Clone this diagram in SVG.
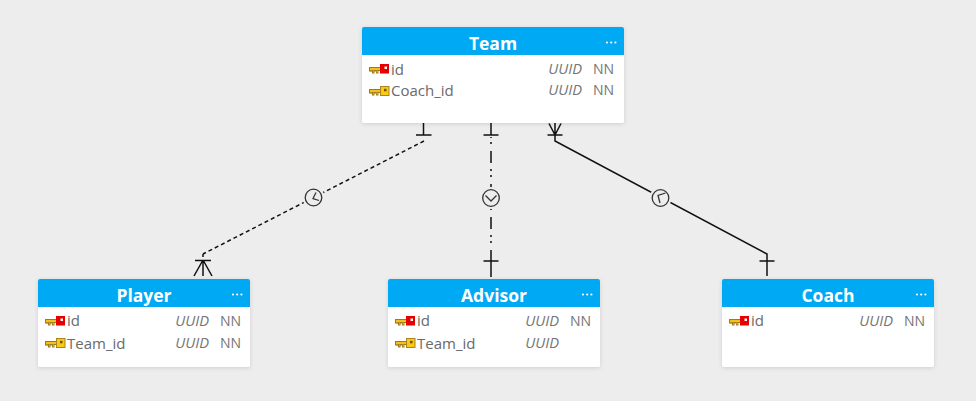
<svg xmlns="http://www.w3.org/2000/svg" width="976" height="401" viewBox="0 0 976 401">
<defs>
<filter id="sh" x="-5%" y="-5%" width="110%" height="115%"><feDropShadow dx="0" dy="1" stdDeviation="2" flood-color="#000" flood-opacity="0.13"/></filter>
<g id="key"><path d="M0 3h12v4h-2.500v2.500h-2.500v-2h-1.500v2h-2.500v-2h-3z" fill="#9c7a1e"/><path d="M1 4h11v2h-11z" fill="#f6c01a"/><path d="M1 6.500h2v1.500h-2zM4 6.500h1v2h-1zM7.500 6.500h1.500v2h-1.500z" fill="#e0a810"/></g>
<g id="pk"><use href="#key"/><rect x="11" y="0" width="9" height="10" fill="#e80000"/><rect x="11" y="9" width="9" height="1" fill="#e98080"/><rect x="15.500" y="2.500" width="2.500" height="2.500" fill="#fff"/></g>
<g id="fk"><use href="#key"/><rect x="11" y="0" width="9.500" height="10" fill="#a8861c"/><rect x="12" y="1" width="7.500" height="8" fill="#fbc812"/><rect x="15" y="2.800" width="2.500" height="2.500" fill="#6a5410"/></g>
<g id="dots" fill="#fff"><circle cx="0.500" cy="0" r="1.100"/><circle cx="4.700" cy="0" r="1.100"/><circle cx="8.900" cy="0" r="1.100"/></g>
</defs>
<style>
text{font-family:"Open Sans","Noto Sans","Liberation Sans",sans-serif}
.card{fill:#fff;filter:url(#sh)}
.head{fill:#00a9f4}
.title{font-size:17.500px;font-weight:700;fill:#fff;text-anchor:middle}
.col{font-size:15px;fill:#6a6a6a}
.type{font-size:14.700px;font-style:italic;fill:#757575;text-anchor:end}
.nn{font-size:14px;fill:#757575;text-anchor:end}
.ln{fill:none;stroke:#111;stroke-width:1.500}
.badge{fill:#ededed;stroke:#333;stroke-width:1.300}
.tick{fill:none;stroke:#333;stroke-width:1.300}
</style>
<rect width="976" height="401" fill="#ededed"/>
<g id="connectors">
<path class="ln" d="M423.500 123V135M416 135H431.500"/>
<path class="ln" stroke-dasharray="4 3" d="M424 141L203 254"/>
<path class="ln" d="M203 254V257M195 260.500H211M203 260V276M203 260L194 276M203 260L212 276"/>
<circle cx="313.500" cy="197.500" r="11" fill="#ededed"/>
<circle class="badge" cx="313.500" cy="197.500" r="8.300"/>
<path class="tick" d="M316 192.500L313 198.500L319 200.500"/>
<path class="ln" d="M491 123V135M483.500 135H498.500"/>
<path class="ln" stroke-dasharray="12 6 2 4 2 7" stroke-dashoffset="19" d="M491 137V250"/>
<path class="ln" d="M491 250V277M483.500 261H498.500"/>
<circle cx="491" cy="198" r="11" fill="#ededed"/>
<circle class="badge" cx="491" cy="198" r="8.300"/>
<path class="tick" d="M485.500 195.500L491 201L496.500 195.500"/>
<path class="ln" d="M555 123V141L767 254V276M759.500 261H774.500M547.500 135H562.500M555 135L549 123.500M555 135L561 123.500"/>
<circle cx="660.500" cy="198" r="11" fill="#ededed"/>
<circle class="badge" cx="660.500" cy="198" r="8.300"/>
<path class="tick" d="M665.500 193L658 195.500L660 203"/>
</g>
<g id="team">
<rect class="card" x="362" y="27" width="262" height="96" rx="2"/>
<path class="head" d="M362 55V29a2 2 0 0 1 2-2H622a2 2 0 0 1 2 2V55z"/>
<text class="title" x="493" y="49.500">Team</text>
<use href="#dots" x="606.500" y="42.500"/>
<use href="#pk" x="369" y="64"/><text class="col" x="391" y="74.500">id</text>
<text class="type" x="582" y="73.500">UUID</text><text class="nn" x="614" y="73.500">NN</text>
<use href="#fk" x="369" y="86"/><text class="col" x="391" y="95.500">Coach_id</text>
<text class="type" x="582" y="95">UUID</text><text class="nn" x="614" y="95">NN</text>
</g>
<g id="player">
<rect class="card" x="38" y="279" width="212" height="88" rx="2"/>
<path class="head" d="M38 307V281a2 2 0 0 1 2-2H248a2 2 0 0 1 2 2V307z"/>
<text class="title" x="144" y="301.500">Player</text>
<use href="#dots" x="232.500" y="294.500"/>
<use href="#pk" x="45" y="316"/><text class="col" x="67" y="326">id</text>
<text class="type" x="209" y="325.500">UUID</text><text class="nn" x="241" y="325.500">NN</text>
<use href="#fk" x="45" y="338"/><text class="col" x="67" y="349">Team_id</text>
<text class="type" x="209" y="348">UUID</text><text class="nn" x="241" y="348">NN</text>
</g>
<g id="advisor">
<rect class="card" x="388" y="279" width="212" height="88" rx="2"/>
<path class="head" d="M388 307V281a2 2 0 0 1 2-2H598a2 2 0 0 1 2 2V307z"/>
<text class="title" x="494" y="301.500">Advisor</text>
<use href="#dots" x="582.500" y="294.500"/>
<use href="#pk" x="395" y="316"/><text class="col" x="417" y="326">id</text>
<text class="type" x="559" y="325.500">UUID</text><text class="nn" x="591" y="325.500">NN</text>
<use href="#fk" x="395" y="338"/><text class="col" x="417" y="349">Team_id</text>
<text class="type" x="559" y="348">UUID</text>
</g>
<g id="coach">
<rect class="card" x="722" y="279" width="212" height="88" rx="2"/>
<path class="head" d="M722 307V281a2 2 0 0 1 2-2H932a2 2 0 0 1 2 2V307z"/>
<text class="title" x="828" y="301.500">Coach</text>
<use href="#dots" x="916.500" y="294.500"/>
<use href="#pk" x="729" y="316"/><text class="col" x="751" y="326">id</text>
<text class="type" x="893" y="325.500">UUID</text><text class="nn" x="925" y="325.500">NN</text>
</g>
</svg>
